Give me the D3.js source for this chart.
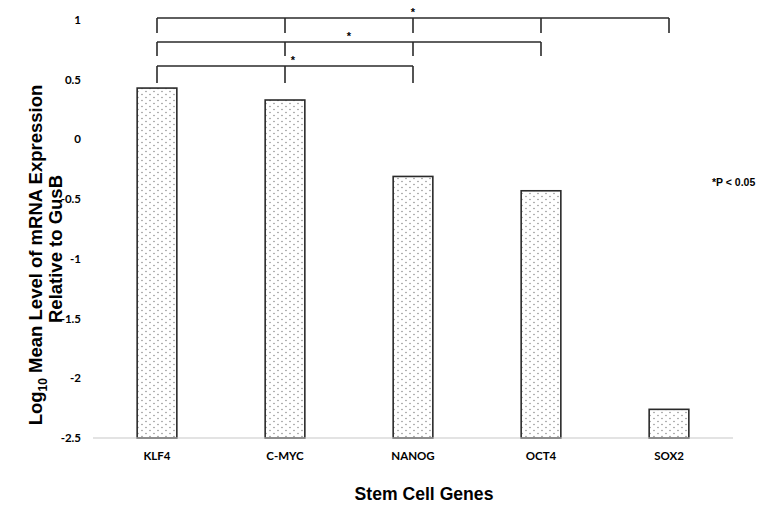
<!DOCTYPE html>
<html>
<head>
<meta charset="utf-8">
<script src="https://cdn.jsdelivr.net/npm/d3@7"></script>
<style>
  body { margin: 0; background: #fff; }
  text { fill: #000; }
</style>
</head>
<body>
<div id="canvas"></div>
<script>
const genes = ["KLF4", "C-MYC", "NANOG", "OCT4", "SOX2"];
const logExpression = [0.43, 0.33, -0.31, -0.43, -2.26];
const yTicks = [1, 0.5, 0, -0.5, -1, -1.5, -2, -2.5];
// significance brackets: from gene -> to gene, with inner ticks
const brackets = [
  { from: "KLF4", to: "SOX2", level: 0 },
  { from: "KLF4", to: "OCT4", level: 1 },
  { from: "KLF4", to: "NANOG", level: 2 }
];

const width = 772;
const height = 509;

const svg = d3.select("#canvas").append("svg")
  .attr("width", width)
  .attr("height", height);

const data = genes.map((g, i) => ({ gene: g, value: logExpression[i] }));

const x = d3.scaleBand().domain(genes).range([93, 733]).paddingInner(0.69).paddingOuter(0.345);
const y = d3.scaleLinear().domain([-2.5, 1]).range([438, 20]);

// dotted fill
const defs = svg.append("defs");
const pat = defs.append("pattern")
  .attr("id", "dots")
  .attr("patternUnits", "userSpaceOnUse")
  .attr("width", 8)
  .attr("height", 6);
pat.append("rect").attr("width", 8).attr("height", 6).attr("fill", "#fff");
pat.append("circle").attr("cx", 2).attr("cy", 1.5).attr("r", 0.65).attr("fill", "#777");
pat.append("circle").attr("cx", 6).attr("cy", 4.5).attr("r", 0.65).attr("fill", "#777");

// y tick labels (no axis line)
svg.append("g")
  .selectAll("text")
  .data(yTicks)
  .enter()
  .append("text")
  .attr("x", 81)
  .attr("y", (d) => y(d))
  .attr("dy", "0.35em")
  .attr("text-anchor", "end")
  .style("font-family", "Lato, 'Open Sans', sans-serif")
  .style("font-weight", "bold")
  .style("font-size", "11.5px")
  .text((d) => d);

// bars
svg.append("g")
  .selectAll("rect")
  .data(data)
  .enter()
  .append("rect")
  .attr("x", (d) => x(d.gene))
  .attr("y", (d) => y(d.value))
  .attr("width", x.bandwidth())
  .attr("height", (d) => y(-2.5) - y(d.value))
  .attr("fill", "url(#dots)")
  .attr("stroke", "#2a2a2a")
  .attr("stroke-width", 1.6);

// baseline
svg.append("line")
  .attr("x1", x.range()[0]).attr("x2", x.range()[1])
  .attr("y1", y(-2.5)).attr("y2", y(-2.5))
  .attr("stroke", "#c8c8c8")
  .attr("stroke-width", 1.2);

// x category labels
svg.append("g")
  .selectAll("text")
  .data(genes)
  .enter()
  .append("text")
  .attr("x", (d) => x(d) + x.bandwidth() / 2)
  .attr("y", 460)
  .attr("text-anchor", "middle")
  .style("font-family", "Lato, 'Open Sans', sans-serif")
  .style("font-weight", "bold")
  .style("font-size", "11.5px")
  .text((d) => d);

// brackets
const cx = (g) => x(g) + x.bandwidth() / 2;
const levelY = [18, 42, 66];
const tickLen = [15, 14, 17];
const bg = svg.append("g").attr("stroke", "#2a2a2a").attr("stroke-width", 1.6).attr("fill", "none");
brackets.forEach((b) => {
  const y0 = levelY[b.level];
  const i0 = genes.indexOf(b.from), i1 = genes.indexOf(b.to);
  bg.append("line").attr("x1", cx(b.from)).attr("x2", cx(b.to)).attr("y1", y0).attr("y2", y0);
  genes.slice(i0, i1 + 1).forEach((g) => {
    bg.append("line").attr("x1", cx(g)).attr("x2", cx(g)).attr("y1", y0).attr("y2", y0 + tickLen[b.level]);
  });
});

// stars
const stars = [
  { x: cx("NANOG"), y: 16 },
  { x: (cx("C-MYC") + cx("NANOG")) / 2, y: 40 },
  { x: cx("C-MYC") + 8, y: 64 }
];
svg.append("g")
  .selectAll("text")
  .data(stars)
  .enter()
  .append("text")
  .attr("x", (d) => d.x)
  .attr("y", (d) => d.y)
  .attr("text-anchor", "middle")
  .style("font-family", "'Liberation Sans', Arial, sans-serif")
  .style("font-weight", "bold")
  .style("font-size", "11px")
  .text("*");

// p value note
svg.append("text")
  .attr("x", 712)
  .attr("y", 186)
  .style("font-family", "'Liberation Sans', Arial, sans-serif")
  .style("font-weight", "bold")
  .style("font-size", "10.5px")
  .text("*P < 0.05");

// axis titles
const yt = svg.append("text")
  .attr("transform", "translate(42,255) rotate(-90)")
  .attr("text-anchor", "middle")
  .style("font-family", "'Liberation Sans', Arial, sans-serif")
  .style("font-weight", "bold")
  .style("font-size", "18.5px");
yt.append("tspan").text("Log");
yt.append("tspan").attr("dy", 5).style("font-size", "12px").text("10");
yt.append("tspan").attr("dy", -5).text(" Mean Level of mRNA Expression");
svg.append("text")
  .attr("transform", "translate(62,249) rotate(-90)")
  .attr("text-anchor", "middle")
  .style("font-family", "'Liberation Sans', Arial, sans-serif")
  .style("font-weight", "bold")
  .style("font-size", "18.5px")
  .text("Relative to GusB");

svg.append("text")
  .attr("x", 424)
  .attr("y", 500)
  .attr("text-anchor", "middle")
  .style("font-family", "'Liberation Sans', Arial, sans-serif")
  .style("font-weight", "bold")
  .style("font-size", "17.6px")
  .text("Stem Cell Genes");
</script>
</body>
</html>
